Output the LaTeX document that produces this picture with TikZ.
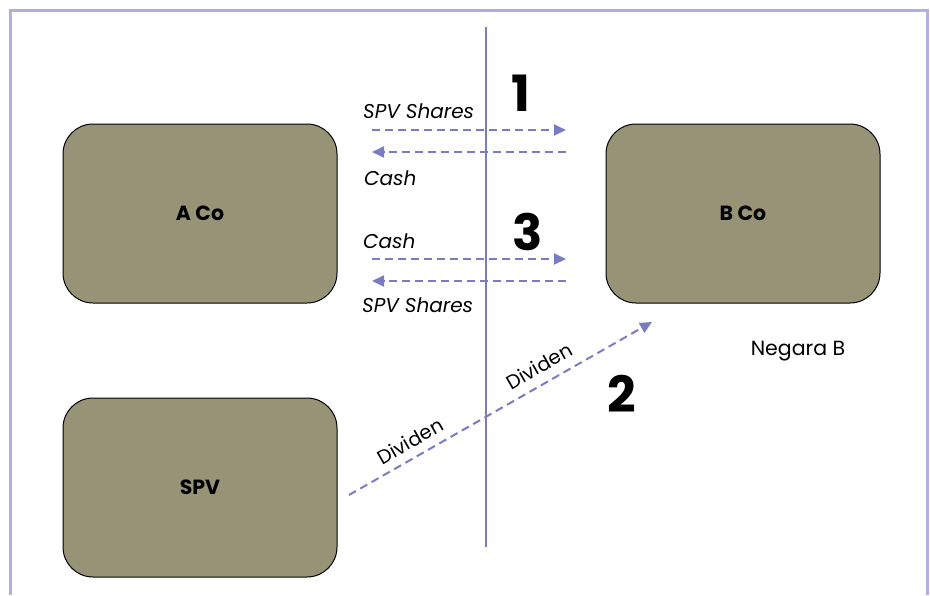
\documentclass[tikz,border=0pt]{standalone}
\usepackage{fontspec}
\setmainfont{Poppins}
\usetikzlibrary{arrows.meta}
\definecolor{boxfill}{HTML}{979377}
\definecolor{flow}{HTML}{7B7BC2}
\definecolor{frameline}{HTML}{B0B0E0}
\begin{document}
\begin{tikzpicture}[x=1pt,y=-1pt,
  entity/.style={draw=black,line width=1pt,fill=boxfill,rounded corners=30pt,
    minimum width=274pt,minimum height=179pt,inner sep=0pt,
    font=\fontsize{20.5}{24}\selectfont\bfseries},
  flowarrow/.style={draw=flow,line width=2pt,dash pattern=on 8pt off 5pt,
    -{Triangle[length=12pt,width=11pt]}},
  flowlabel/.style={font=\fontsize{20}{24}\selectfont\itshape,inner sep=0pt,anchor=base west},
  steplabel/.style={font=\fontsize{50}{54}\selectfont\bfseries,inner sep=0pt},
  divlabel/.style={font=\fontsize{19.5}{22}\selectfont,inner sep=0pt,rotate=29.6}]
\useasboundingbox (0,0) rectangle (930,595);
% outer frame, open at the bottom
\draw[frameline,line width=2.5pt] (10.5,595) -- (10.5,10.5) -- (927.5,10.5) -- (927.5,595);
% border between the two countries
\coordinate (bordertop) at (486,27);
\coordinate (borderbot) at (486,547);
\draw[flow,line width=2.5pt] (bordertop) -- (borderbot);
% parties
\node[entity] (aco) at (200,213.5) {A Co};
\node[entity] (bco) at (743,213.5) {B Co};
\node[entity] (spv) at (200,487.5) {SPV};
\node[font=\fontsize{20.5}{24}\selectfont,inner sep=0pt] (negara) at (798,351) {Negara B};
% step 1: share sale
\coordinate (s1a) at (372,130);
\coordinate (s1b) at (566,130);
\coordinate (c1a) at (566,152);
\coordinate (c1b) at (372,152);
\draw[flowarrow] (s1a) -- (s1b);
\draw[flowarrow] (c1a) -- (c1b);
\node[flowlabel] (l1a) at (363,118) {SPV Shares};
\node[flowlabel] (l1b) at (364,185) {Cash};
\node[steplabel] (n1) at (521,93) {1};
% step 3: share buy-back
\coordinate (c3a) at (372,259);
\coordinate (c3b) at (566,259);
\coordinate (s3a) at (566,281);
\coordinate (s3b) at (372,281);
\draw[flowarrow] (c3a) -- (c3b);
\draw[flowarrow] (s3a) -- (s3b);
\node[flowlabel] (l3a) at (363,248) {Cash};
\node[flowlabel] (l3b) at (362,312) {SPV Shares};
\node[steplabel] (n3) at (528,232) {3};
% step 2: dividend
\coordinate (d0) at (349,495);
\coordinate (d1) at (652,322);
\draw[flowarrow] (d0) -- (d1);
\node[divlabel] (dv1) at (410,441) {Dividen};
\node[divlabel] (dv2) at (539,366) {Dividen};
\node[steplabel] (n2) at (622,394) {2};
\end{tikzpicture}
\end{document}
